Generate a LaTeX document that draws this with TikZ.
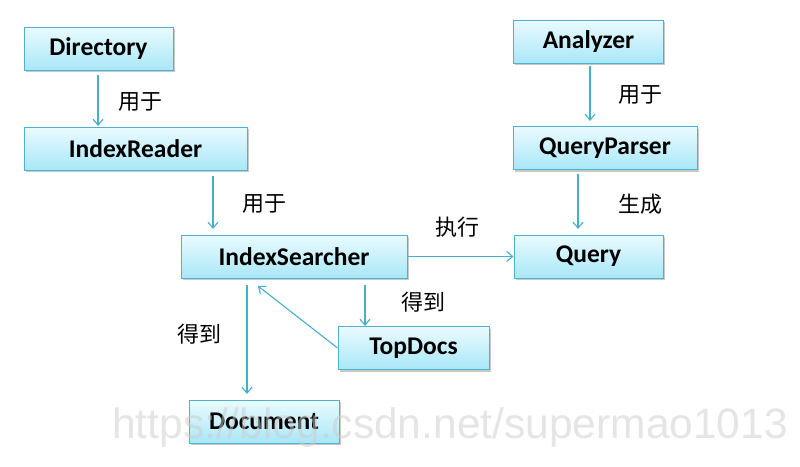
\documentclass[tikz,border=0pt]{standalone}
\usepackage{fontspec}
\setmainfont{Carlito}
\newfontfamily\cjk{Noto Sans CJK SC}
\newfontfamily\wmfont{Liberation Sans}
\usetikzlibrary{shadows,arrows.meta}
\definecolor{boxborder}{HTML}{4BB3D0}
\definecolor{boxtop}{HTML}{EAFBFF}
\definecolor{boxbot}{HTML}{A9E7F7}
\definecolor{arrowc}{HTML}{46AFCC}
\tikzset{
  box/.style={rectangle, draw=boxborder, line width=1pt, top color=boxtop, bottom color=boxbot,
    minimum height=43pt, inner sep=0pt, font=\bfseries\fontsize{25.5}{28}\selectfont,
    drop shadow={shadow xshift=1.5pt, shadow yshift=-2pt, fill=black!35, opacity=0.6}},
  conn/.style={draw=arrowc, line width=1.1pt, -{Straight Barb[length=6pt,width=10pt,line width=1.1pt]}},
  lbl/.style={font=\cjk\fontsize{22}{24}\selectfont, inner sep=0pt},
}
\begin{document}
\begin{tikzpicture}[x=1pt,y=-1pt]
\useasboundingbox (0,0) rectangle (800,466);
\fill[white] (0,0) rectangle (800,466);
\node[box, minimum width=149pt] (dir) at (98.5,48.5) {Directory};
\node[box, minimum width=223pt] (ir) at (135.5,148.5) {IndexReader};
\node[box, minimum width=226pt] (is) at (294,256.5) {IndexSearcher};
\node[box, minimum width=149pt] (q) at (588.5,256.5) {Query};
\node[box, minimum width=150pt] (an) at (588.5,41.5) {Analyzer};
\node[box, minimum width=184pt] (qp) at (605,148) {QueryParser};
\node[box, minimum width=151pt] (td) at (413.5,348) {TopDocs};
\node[box, minimum width=150pt] (doc) at (264,421.5) {Document};

\coordinate (a1s) at (98,75); \coordinate (a1e) at (98,126);
\draw[conn] (a1s) -- (a1e);
\node[lbl] (l1) at (140,102) {用于};

\coordinate (a2s) at (213,176); \coordinate (a2e) at (213,229);
\draw[conn] (a2s) -- (a2e);
\node[lbl] (l2) at (264,204) {用于};

\draw[conn] (is.east) -- (q.west);
\node[lbl] (l3) at (457,227) {执行};

\coordinate (a4s) at (590,66); \coordinate (a4e) at (590,121);
\draw[conn] (a4s) -- (a4e);
\node[lbl] (l4) at (640,95) {用于};

\coordinate (a5s) at (578,174); \coordinate (a5e) at (578,229);
\draw[conn] (a5s) -- (a5e);
\node[lbl] (l5) at (640,204) {生成};

\coordinate (a6s) at (365,285); \coordinate (a6e) at (365,326);
\draw[conn] (a6s) -- (a6e);
\node[lbl] (l6) at (423,302) {得到};

\coordinate (a7e) at (258,286);
\draw[conn] (td.west) -- (a7e);

\coordinate (a8s) at (247,285); \coordinate (a8e) at (247,394);
\draw[conn] (a8s) -- (a8e);
\node[lbl] (l8) at (199,334) {得到};

\node[font=\wmfont\fontsize{42.5}{45}\selectfont, text=gray!40, opacity=0.5, inner sep=0pt] (wm) at (450,428) {https://blog.csdn.net/supermao1013};
\end{tikzpicture}
\end{document}
